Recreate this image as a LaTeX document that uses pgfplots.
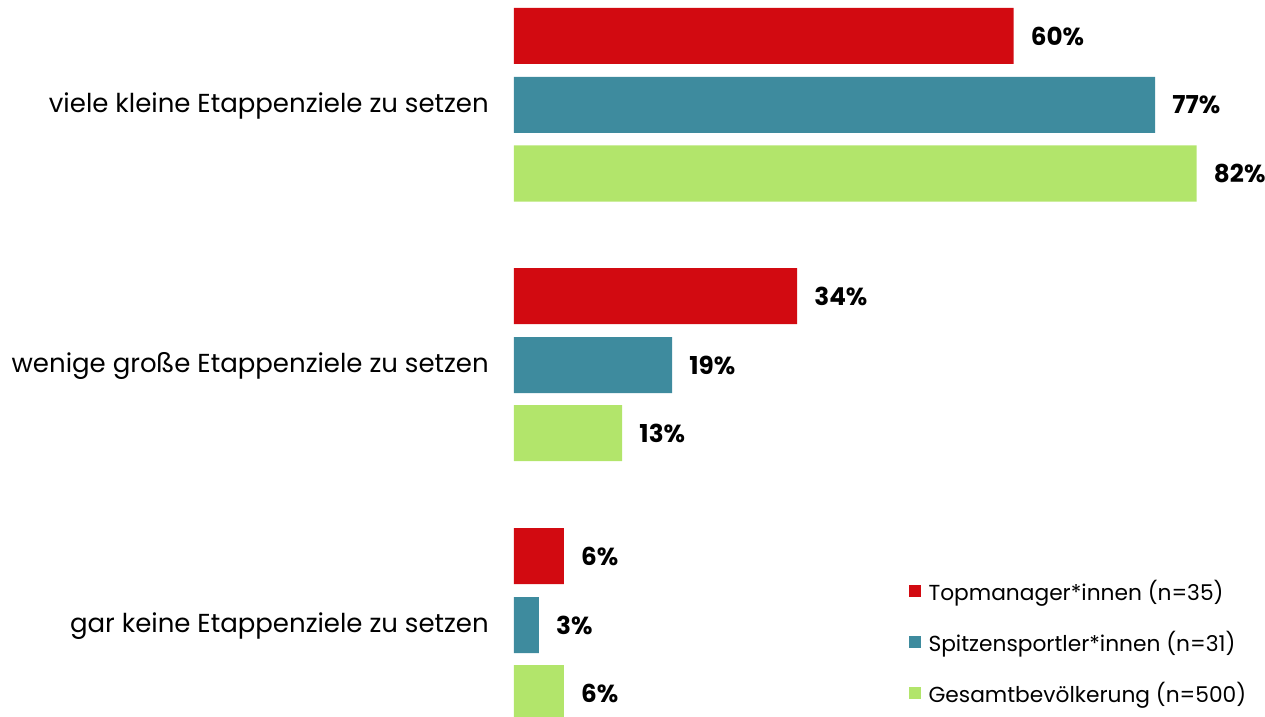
\documentclass[border=0pt]{standalone}
\usepackage{pgfplots}
\pgfplotsset{compat=1.18}
\usepackage{fontspec}
\setmainfont{Poppins}
\definecolor{cRed}{HTML}{D20A11}
\definecolor{cTeal}{HTML}{3E8B9E}
\definecolor{cGreen}{HTML}{B2E56B}
\begin{document}
\begin{tikzpicture}[x=0.75pt,y=0.75pt]
\path[use as bounding box] (-514,0) rectangle (751,717);
\begin{axis}[
  at={(0pt,0pt)}, anchor=south west,
  scale only axis, width=563.25pt, height=537.75pt,
  xmin=0, xmax=90.2, ymin=0, ymax=717, y dir=reverse,
  xbar, bar width=42pt, bar shift=0pt,
  axis lines=none, clip=false,
  ytick=\empty, xtick=\empty,
  /pgf/number format/assume math mode=true,
  nodes near coords={\textbf{\pgfmathprintnumber{\pgfplotspointmeta}\%}},
  nodes near coords style={font=\fontsize{18.5}{20}\selectfont, anchor=west, inner sep=0pt, xshift=12.75pt, text=black},
  point meta=explicit,
  legend style={at={(0.525,0.195)}, anchor=north west, draw=none, fill=none,
    font=\fontsize{16.3}{18}\selectfont, row sep=17.5pt, inner sep=0pt,
    cells={anchor=west}},
  legend image code/.code={\fill[#1] (0pt,-4.5pt) rectangle (9pt,4.5pt); \path (13pt,0pt);},
]
\addplot[fill=cRed, draw=none] coordinates {(60,36) [60] (34,296) [34] (6,556) [6]};
\addplot[fill=cTeal, draw=none] coordinates {(77,105) [77] (19,365) [19] (3,625) [3]};
\addplot[fill=cGreen, draw=none] coordinates {(82,173.5) [82] (13,433) [13] (6,693) [6]};
\legend{Topmanager*innen (n=35), Spitzensportler*innen (n=31), Gesamtbevölkerung (n=500)}
\node[anchor=east, inner sep=0pt, font=\fontsize{19.5}{21}\selectfont] at (axis cs:0,106) [xshift=-18.75pt] {viele kleine Etappenziele zu setzen};
\node[anchor=east, inner sep=0pt, font=\fontsize{19.5}{21}\selectfont] at (axis cs:0,366) [xshift=-18.75pt] {wenige große Etappenziele zu setzen};
\node[anchor=east, inner sep=0pt, font=\fontsize{19.5}{21}\selectfont] at (axis cs:0,626) [xshift=-18.75pt] {gar keine Etappenziele zu setzen};
\end{axis}
\end{tikzpicture}
\end{document}
